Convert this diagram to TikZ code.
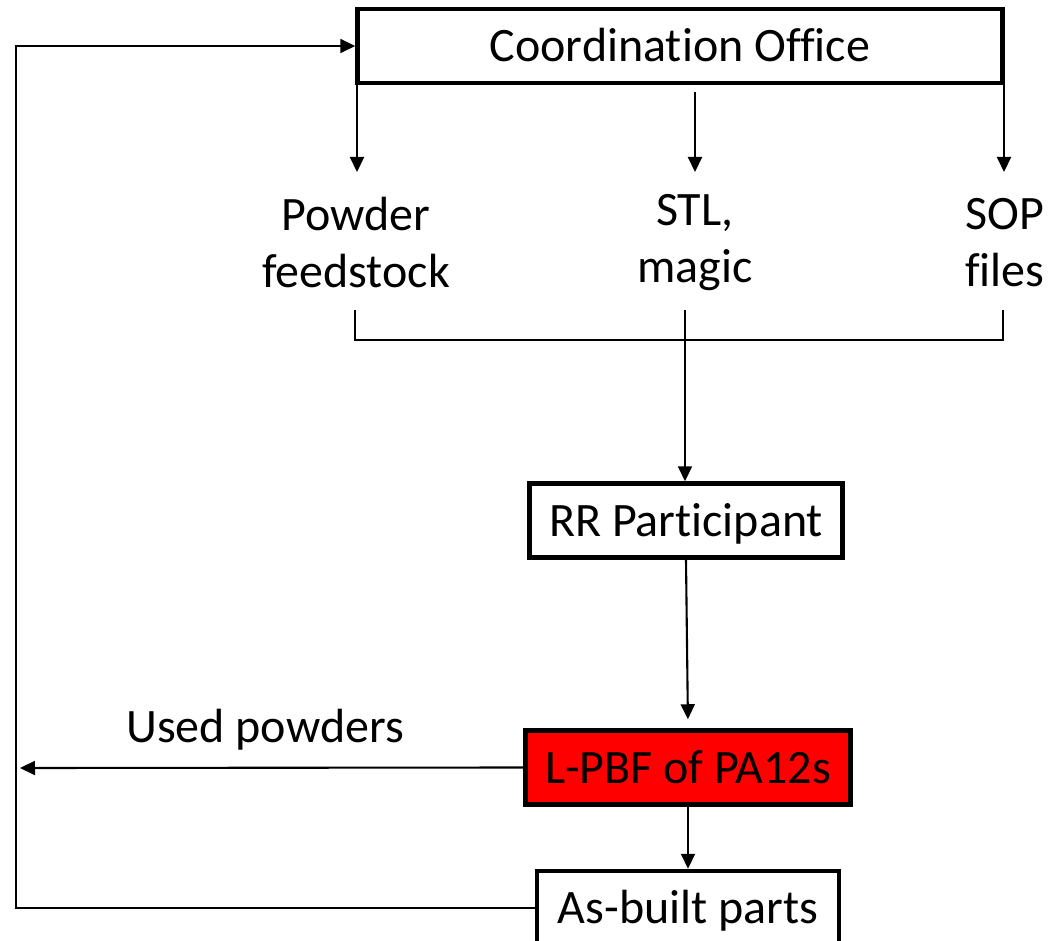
\documentclass[tikz,border=0pt]{standalone}
\usepackage{fontspec}
\setmainfont[Ligatures=NoCommon]{Carlito}
\usetikzlibrary{arrows.meta,positioning}

\begin{document}
\begin{tikzpicture}[x=1pt, y=-1pt, ->, >={Triangle[length=15pt,width=14pt]}, line width=2.1pt, draw=black, font=\fontsize{48}{57}\selectfont]
	\tikzset{box/.style={draw, rectangle, line width=4.5pt, text height=31pt, text depth=0pt, minimum height=74pt, inner sep=0pt}}
	\tikzset{txt/.style={align=center, inner sep=0pt}}
	\useasboundingbox (0,0) rectangle (1049,941);

	%CAJAS
	\node[box, minimum width=645pt]			(co) at (680,46)	{Coordination Office};
	\node[box, minimum width=313pt]			(rr) at (686,520.5)	{RR Participant};
	\node[box, minimum width=325pt, fill=red]	(lpbf) at (688,767.5)	{L-PBF of PA12s};
	\node[box, minimum width=302pt]			(ab) [below=62pt of lpbf]	{As-built parts};

	%TEXTOS
	\node[txt]	(pw) at (356,243)	{Powder\\feedstock};
	\node[txt]	(stl) at (695,243)	{STL,\\magic};
	\node[txt]	(sop) at (1005,243)	{SOP\\files};
	\node[txt]	(used) at (265,730)	{Used powders};

	%PUNTOS
	\coordinate (pwtip) at (357,172);
	\coordinate (stltop) at (695,92);
	\coordinate (stltip) at (695,172);
	\coordinate (soptip) at (1004,172);
	\coordinate (brl) at (355,310);
	\coordinate (brm) at (685,310);
	\coordinate (brr) at (1003,310);
	\coordinate (usedtip) at (20,768);
	\coordinate (ret) at (16,903);

	%CONEXIONES
	\draw (co.south -| pwtip) -- (pwtip);
	\draw (stltop) -- (stltip);
	\draw (co.south -| soptip) -- (soptip);
	\draw[-, line width=1.4pt] (brl) -- ++(0,30) -| (brr);
	\draw (brm) -- (brm |- rr.north);
	\draw[shorten >=9pt] (rr.south) -- (lpbf.north);
	\draw (lpbf.west) -- (usedtip);
	\draw (lpbf.south) -- (lpbf.south |- ab.north);
	\draw (ab.west) -- (ab.west -| ret) |- (co.west);
\end{tikzpicture}
\end{document}
